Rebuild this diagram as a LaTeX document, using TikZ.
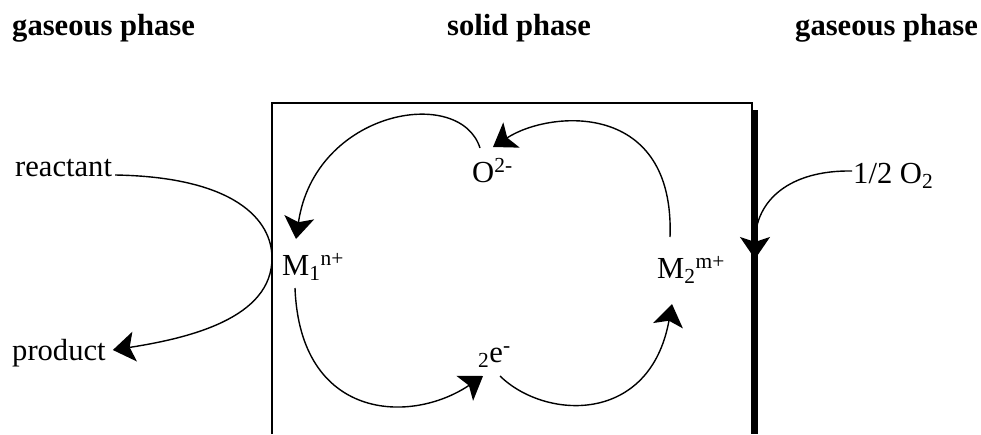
\documentclass[tikz,border=0pt]{standalone}
\usepackage{fontspec}
\setmainfont{Liberation Serif}
\usetikzlibrary{arrows.meta}

\begin{document}
\begin{tikzpicture}[x=1pt, y=-1pt,
    txt/.style={font=\fontsize{30.6}{36}\selectfont, inner sep=0pt, anchor=base west},
    hdr/.style={txt, font=\fontsize{30.6}{36}\selectfont\bfseries},
    wall/.style={draw=black, line width=1.3pt},
    film/.style={draw=black, line width=5pt},
    flow/.style={draw=black, line width=1.4pt,
                 -{Stealth[length=22pt, width=30pt, inset=5pt]}}]
  \useasboundingbox (0,0) rectangle (981,434);

  % ---------- phases -------------------------------------------------------
  \node[hdr] (gasL) at (12,35)  {gaseous phase};
  \node[hdr] (sol)  at (447,35) {solid phase};
  \node[hdr] (gasR) at (795,35) {gaseous phase};

  % ---------- the oxide ----------------------------------------------------
  \draw[wall] (272,434) |- (752,103) -- (752,434);
  \draw[film] (755,110) -- (755,434);
  \coordinate (surf) at (755,259);

  % ---------- species ------------------------------------------------------
  \node[txt] (rea)  at (15,176)  {reactant};
  \node[txt] (prod) at (12,360)  {product};
  \node[txt] (O)    at (472,182) {O\textsuperscript{2-}};
  \node[txt] (M1)   at (282,275) {M\textsubscript{1}\textsuperscript{n+}};
  \node[txt] (M2)   at (657,278) {M\textsubscript{2}\textsuperscript{m+}};
  \node[txt] (e2)   at (478,362) {\textsubscript{2}e\textsuperscript{-}};
  \node[txt] (half) at (853,183) {1/2 O\textsubscript{2}};

  % ---------- redox cycle --------------------------------------------------
  \draw[flow] ([shift={(3,-1)}]rea.base east)
      .. controls (235,177) and (272,220) .. (272,258)
      .. controls (272,318) and (190,338) .. ([shift={(7,-10)}]prod.base east);
  \draw[flow] ([shift={(8,-34)}]O.base west)
      .. controls (460,85) and (315,110) .. ([shift={(14,-36)}]M1.base west);
  \draw[flow] ([shift={(13,-41)}]M2.base west)
      .. controls (675,100) and (550,110) .. ([shift={(21,-35)}]O.base west);
  \draw[flow] ([shift={(13,13)}]M1.base west)
      .. controls (300,420) and (410,425) .. ([shift={(5,14)}]e2.base west);
  \draw[flow] ([shift={(22,14)}]e2.base west)
      .. controls (545,420) and (650,425) .. ([shift={(15,26)}]M2.base west);
  \draw[flow] ([shift={(-1,-12)}]half.base west)
      .. controls (790,170) and (755,200) .. (surf);
\end{tikzpicture}
\end{document}
